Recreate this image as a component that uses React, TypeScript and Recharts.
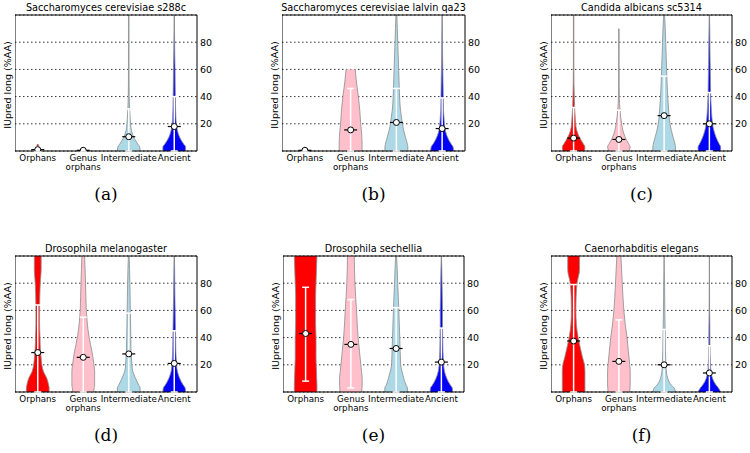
import {
  ComposedChart, Area, Scatter, ErrorBar, XAxis, YAxis,
  CartesianGrid, ReferenceArea,
} from 'recharts';

const FONT = '"DejaVu Sans", sans-serif';

// y levels (top to bottom) at which the violin half-widths were read
const Y_LEVELS = [100, 90, 80, 70, 60, 50, 40, 30, 25, 20, 15, 10, 5, 3, 0];
const Y_TICKS = [20, 40, 60, 80];
const CATEGORIES = ['Orphans', 'Genus\norphans', 'Intermediate', 'Ancient'];
const COLOURS = ['#ff0000', '#ffc0cb', '#add8e6', '#0000ff'];
const TITLES = [
  'Saccharomyces cerevisiae s288c',
  'Saccharomyces cerevisiae lalvin qa23',
  'Candida albicans sc5314',
  'Drosophila melanogaster',
  'Drosophila sechellia',
  'Caenorhabditis elegans',
];
const LETTERS = ['(a)', '(b)', '(c)', '(d)', '(e)', '(f)'];

type W = (number | null)[];
const n = null;

// half-widths (in category units), one row per category, following Y_LEVELS
const A_WIDTH: W[] = [
  [n, n, n, n, n, n, n, n, n, n, n, n, 0.01, 0.03, 0.08],
  [n, n, n, n, n, n, n, n, n, n, n, n, n, 0.004, 0.02],
  [0.006, 0.006, 0.006, 0.006, 0.006, 0.007, 0.01, 0.02, 0.03, 0.04, 0.06, 0.11, 0.2, 0.24, 0.25],
  [0.003, 0.005, 0.008, 0.012, 0.018, 0.02, 0.025, 0.03, 0.035, 0.045, 0.07, 0.12, 0.21, 0.25, 0.25],
];
const A_MEAN = [1, 0.5, 10.5, 18];
const A_ERR_LO = [0, 0, 0, 0];
const A_ERR_HI = [3, 1, 31, 40];

const B_WIDTH: W[] = [
  [n, n, n, n, n, n, n, n, n, n, n, n, n, 0.003, 0.01],
  [n, n, n, n, 0.1, 0.13, 0.17, 0.2, 0.21, 0.22, 0.235, 0.245, 0.25, 0.25, 0.25],
  [0.01, 0.02, 0.03, 0.04, 0.05, 0.06, 0.07, 0.09, 0.11, 0.13, 0.16, 0.2, 0.24, 0.25, 0.25],
  [0.003, 0.005, 0.008, 0.01, 0.015, 0.02, 0.025, 0.03, 0.04, 0.05, 0.07, 0.12, 0.2, 0.24, 0.25],
];
const B_MEAN = [0.5, 15.5, 21, 16.5];
const B_ERR_LO = [0, 0, 0, 0];
const B_ERR_HI = [1, 46, 46, 39];

const C_WIDTH: W[] = [
  [0.005, 0.005, 0.005, 0.005, 0.006, 0.008, 0.015, 0.025, 0.035, 0.045, 0.07, 0.13, 0.22, 0.25, 0.24],
  [n, 0.005, 0.006, 0.006, 0.006, 0.007, 0.01, 0.025, 0.04, 0.06, 0.09, 0.14, 0.22, 0.25, 0.22],
  [0.01, 0.025, 0.035, 0.045, 0.055, 0.065, 0.08, 0.1, 0.11, 0.13, 0.16, 0.2, 0.24, 0.25, 0.25],
  [0.004, 0.008, 0.012, 0.015, 0.02, 0.025, 0.03, 0.045, 0.055, 0.07, 0.1, 0.15, 0.22, 0.25, 0.25],
];
const C_MEAN = [9.5, 8.5, 26, 20];
const C_ERR_LO = [0, 0, 0, 0];
const C_ERR_HI = [32, 30, 55, 43];

const D_WIDTH: W[] = [
  [0.075, 0.075, 0.055, 0.045, 0.04, 0.04, 0.05, 0.06, 0.075, 0.09, 0.125, 0.2, 0.24, 0.25, 0.25],
  [0.03, 0.04, 0.05, 0.058, 0.066, 0.09, 0.13, 0.19, 0.215, 0.235, 0.25, 0.25, 0.25, 0.24, 0.23],
  [0.008, 0.018, 0.025, 0.03, 0.035, 0.04, 0.045, 0.05, 0.06, 0.07, 0.09, 0.15, 0.22, 0.25, 0.25],
  [0.004, 0.008, 0.012, 0.015, 0.02, 0.025, 0.03, 0.035, 0.042, 0.05, 0.07, 0.12, 0.2, 0.24, 0.25],
];
const D_MEAN = [29, 25.5, 28, 21];
const D_ERR_LO = [0, 0, 0, 0];
const D_ERR_HI = [64, 55, 58, 45];

const E_WIDTH: W[] = [
  [0.25, 0.24, 0.23, 0.22, 0.22, 0.22, 0.23, 0.23, 0.23, 0.235, 0.24, 0.245, 0.25, 0.25, 0.25],
  [0.075, 0.08, 0.09, 0.105, 0.125, 0.14, 0.16, 0.19, 0.205, 0.22, 0.235, 0.25, 0.25, 0.245, 0.24],
  [0.01, 0.025, 0.035, 0.048, 0.06, 0.07, 0.08, 0.09, 0.095, 0.1, 0.13, 0.17, 0.22, 0.25, 0.25],
  [0.003, 0.01, 0.015, 0.02, 0.025, 0.025, 0.03, 0.035, 0.042, 0.05, 0.07, 0.12, 0.2, 0.24, 0.25],
];
const E_MEAN = [43, 35, 32, 22];
const E_ERR_LO = [8, 3, 0, 0];
const E_ERR_HI = [77, 68, 62, 47];

const F_WIDTH: W[] = [
  [0.13, 0.13, 0.075, 0.055, 0.05, 0.06, 0.1, 0.165, 0.2, 0.24, 0.25, 0.25, 0.25, 0.25, 0.25],
  [0.045, 0.06, 0.075, 0.09, 0.11, 0.14, 0.18, 0.21, 0.225, 0.24, 0.25, 0.25, 0.25, 0.245, 0.24],
  [0.003, 0.006, 0.01, 0.012, 0.015, 0.02, 0.025, 0.03, 0.035, 0.04, 0.05, 0.08, 0.16, 0.22, 0.25],
  [0.002, 0.002, 0.003, 0.004, 0.005, 0.01, 0.012, 0.015, 0.02, 0.025, 0.035, 0.07, 0.15, 0.2, 0.25],
];
const F_MEAN = [37.5, 22.5, 20, 14];
const F_ERR_LO = [0, 0, 0, 0];
const F_ERR_HI = [79, 53, 46, 34];

const PANELS = [
  { widths: A_WIDTH, mean: A_MEAN, lo: A_ERR_LO, hi: A_ERR_HI, left: 15, top: 15, w: 182 },
  { widths: B_WIDTH, mean: B_MEAN, lo: B_ERR_LO, hi: B_ERR_HI, left: 282, top: 15, w: 183 },
  { widths: C_WIDTH, mean: C_MEAN, lo: C_ERR_LO, hi: C_ERR_HI, left: 551, top: 15, w: 181 },
  { widths: D_WIDTH, mean: D_MEAN, lo: D_ERR_LO, hi: D_ERR_HI, left: 15, top: 256, w: 182 },
  { widths: E_WIDTH, mean: E_MEAN, lo: E_ERR_LO, hi: E_ERR_HI, left: 283, top: 256, w: 181 },
  { widths: F_WIDTH, mean: F_MEAN, lo: F_ERR_LO, hi: F_ERR_HI, left: 551, top: 256, w: 181 },
];
const PLOT_H = 136;

function buildViolins(widths: W[]) {
  return Y_LEVELS.map((y, i) => {
    const row: Record<string, unknown> = { y };
    widths.forEach((w, k) => {
      const half = w[i];
      row['v' + k] = half == null ? [null, null] : [k + 1 - half, k + 1 + half];
    });
    return row;
  });
}

const CategoryTick = ({ x, y, payload }: any) => {
  const lines = (CATEGORIES[Math.round(payload.value) - 1] ?? '').split('\n');
  return (
    <text x={x} y={y} textAnchor="middle" fontSize={8.7} fontFamily={FONT} fill="#000">
      {lines.map((l, i) => (
        <tspan key={i} x={x} dy={i === 0 ? 7.5 : 9.5}>{l}</tspan>
      ))}
    </text>
  );
};

const MeanMarker = ({ cx, cy }: any) => (
  <g>
    <line x1={cx - 6.5} x2={cx + 6.5} y1={cy} y2={cy} stroke="#000" strokeWidth={1.2} />
    <circle cx={cx} cy={cy} r={3} fill="#fff" stroke="#000" strokeWidth={1} />
  </g>
);

function ViolinPanel({ widths, mean, lo, hi, left, top, w }: typeof PANELS[number]) {
  const data = buildViolins(widths);
  const points = mean.map((m, k) => ({ x: k + 1, y: m, err: [m - lo[k], hi[k] - m] }));
  return (
    <div style={{ position: 'absolute', left, top: top - 15 }}>
      <ComposedChart
        layout="vertical"
        width={w + 40}
        height={PLOT_H + 45}
        data={data}
        margin={{ top: 15, right: 10, bottom: 2, left: 0 }}
      >
        <CartesianGrid vertical={false} stroke="#333" strokeDasharray="1.5 2.5" />
        <XAxis
          type="number" dataKey="x" domain={[0.5, 4.5]} ticks={[1, 2, 3, 4]}
          allowDataOverflow interval={0} tick={<CategoryTick />}
          tickLine={false} axisLine={false} tickSize={0} tickMargin={2} height={28}
        />
        <YAxis
          type="number" dataKey="y" orientation="right" domain={[0, 100]} ticks={Y_TICKS}
          reversed allowDataOverflow tickLine={false} axisLine={false} tickSize={0} tickMargin={3}
          width={30} tick={{ fontSize: 9.5, fill: '#000', fontFamily: FONT }}
        />
        {COLOURS.map((c, k) => (
          <Area
            key={k} dataKey={'v' + k} type="monotone" fill={c} fillOpacity={1}
            stroke="#8c8c8c" strokeWidth={0.8} dot={false} activeDot={false}
            isAnimationActive={false}
          />
        ))}
        <Scatter data={points} shape={MeanMarker} isAnimationActive={false}>
          <ErrorBar dataKey="err" direction="y" stroke="#fff" strokeWidth={1.5} width={3.5} />
        </Scatter>
        <ReferenceArea x1={0.5} x2={4.5} y1={0} y2={100} fill="none" stroke="#000" strokeWidth={1} ifOverflow="visible" />
      </ComposedChart>
    </div>
  );
}

export default function App() {
  return (
    <div style={{ position: 'absolute', left: 0, top: 0, width: 750, height: 453, background: '#fff' }}>
      {PANELS.map((p, i) => <ViolinPanel key={i} {...p} />)}
      <svg width={750} height={453} style={{ position: 'absolute', left: 0, top: 0, pointerEvents: 'none' }}>
        {PANELS.map((p, i) => (
          <g key={i}>
            <text x={p.left + p.w / 2} y={p.top - 4.5} textAnchor="middle" fontSize={9.7} fontFamily={FONT}>
              {TITLES[i]}
            </text>
            <text
              x={p.left - 8} y={p.top + PLOT_H / 2 + 2} textAnchor="middle" dominantBaseline="central"
              fontSize={9.5} fontFamily={FONT} transform={`rotate(-90, ${p.left - 8}, ${p.top + PLOT_H / 2 + 2})`}
            >
              IUpred long (%AA)
            </text>
            <text x={p.left + p.w / 2} y={p.top + 185} textAnchor="middle" fontSize={17} fontFamily='"DejaVu Serif", serif'>
              {LETTERS[i]}
            </text>
          </g>
        ))}
      </svg>
    </div>
  );
}
